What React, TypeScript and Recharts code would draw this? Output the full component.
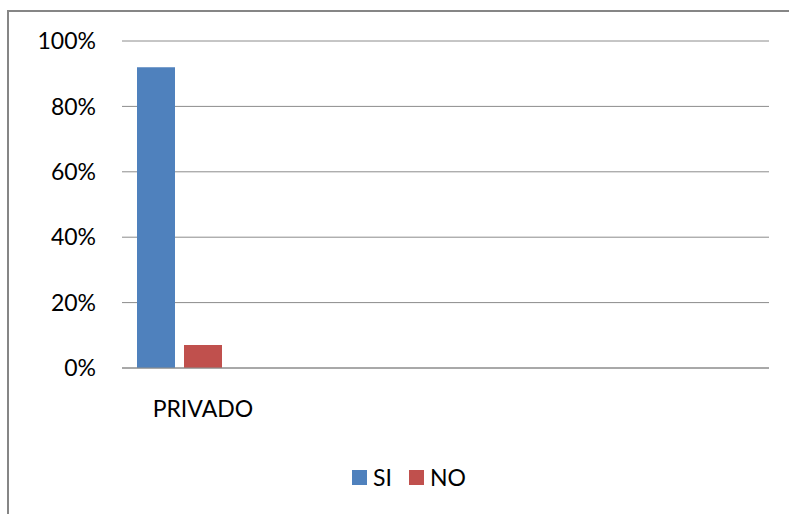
import React from "react";
import {
  BarChart,
  Bar,
  XAxis,
  YAxis,
  CartesianGrid,
  Legend,
} from "recharts";

// one filled category, three empty ones (as in the source sheet)
const categories = ["PRIVADO", "", "", ""];
const siValues = [0.92, null, null, null];
const noValues = [0.07, null, null, null];
const emptyValues = [null, null, null, null];
const yTicks = [0, 0.2, 0.4, 0.6, 0.8, 1];
const legendOrder = ["SI", "NO"];

const data = categories.map((name, i) => ({
  name,
  SI: siValues[i],
  NO: noValues[i],
  extra: emptyValues[i],
}));

const FONT = "Lato, 'Liberation Sans', sans-serif";
const GRID = "#8c8c8c";

function LegendBox(props: any) {
  const items = (props.payload || [])
    .filter((p: any) => legendOrder.includes(p.value))
    .sort((a: any, b: any) => legendOrder.indexOf(a.value) - legendOrder.indexOf(b.value));
  return (
    <div style={{ display: "flex", alignItems: "center", fontFamily: FONT, fontSize: 23, color: "#000" }}>
      {items.map((p: any) => (
        <div key={p.value} style={{ display: "flex", alignItems: "center", marginRight: 17 }}>
          <span style={{ width: 15, height: 15, background: p.color, display: "inline-block", marginRight: 6 }} />
          <span>{p.value}</span>
        </div>
      ))}
    </div>
  );
}

export default function App() {
  return (
    <div
      style={{
        position: "fixed",
        left: 0,
        top: 0,
        width: 789,
        height: 514,
        overflow: "hidden",
        background: "#fff",
      }}
    >
      <div
        style={{
          position: "absolute",
          left: 7,
          top: 10,
          width: 820,
          height: 540,
          borderLeft: "2px solid #868686",
          borderTop: "2px solid #868686",
        }}
      />
      <div style={{ position: "absolute", left: 0, top: 0 }}>
        <BarChart
          width={789}
          height={514}
          data={data}
          margin={{ top: 41, right: 20, bottom: 66, left: 0 }}
          barGap={9}
          barSize={38}
          style={{ fontFamily: FONT }}
        >
          <CartesianGrid vertical={false} stroke={GRID} />
          <XAxis
            dataKey="name"
            height={50}
            tickLine={false}
            axisLine={{ stroke: GRID }}
            tickMargin={27}
            tick={{ fill: "#000", fontSize: 23, fontFamily: FONT }}
            interval={0}
          />
          <YAxis
            width={122}
            domain={[0, 1]}
            ticks={yTicks}
            axisLine={false}
            tickLine={false}
            tickMargin={20}
            tickFormatter={(v: number) => `${Math.round(v * 100)}%`}
            tick={{ fill: "#000", fontSize: 23, fontFamily: FONT }}
          />
          <Legend
            content={<LegendBox />}
            verticalAlign="bottom"
            wrapperStyle={{ left: 352, top: 463, width: "auto", height: 30 }}
          />
          <Bar dataKey="SI" name="SI" fill="#4F81BD" isAnimationActive={false} />
          <Bar dataKey="NO" name="NO" fill="#C0504D" isAnimationActive={false} />
          <Bar dataKey="extra" name="extra" fill="#9BBB59" legendType="none" isAnimationActive={false} />
        </BarChart>
      </div>
    </div>
  );
}
